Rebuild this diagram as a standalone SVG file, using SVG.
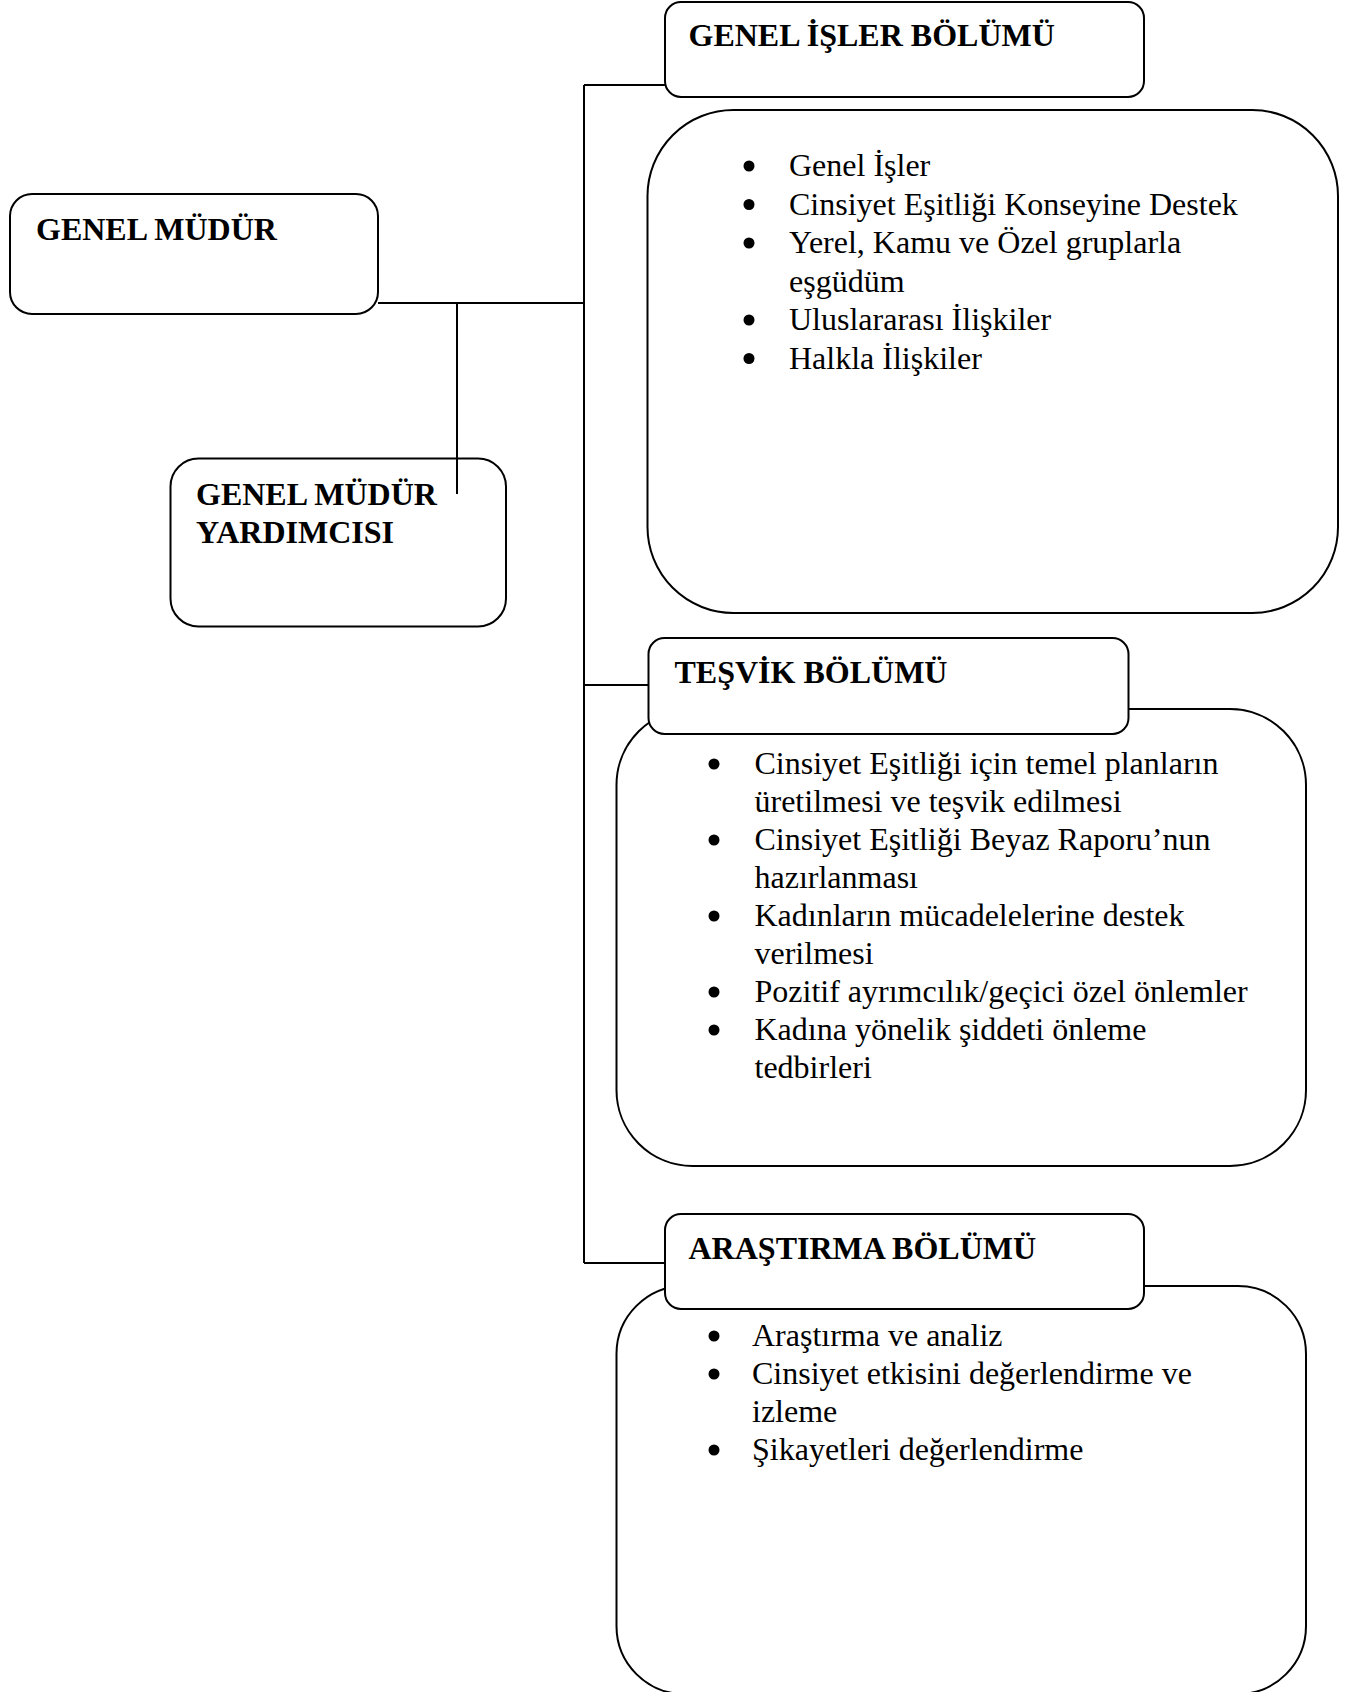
<svg xmlns="http://www.w3.org/2000/svg" width="1350" height="1692" viewBox="0 0 1350 1692">
<style>
.box{fill:#ffffff;stroke:#000000;stroke-width:2}
.line{fill:none;stroke:#000000;stroke-width:2}
.t{font-family:"Liberation Serif","Times New Roman",serif;font-size:32px;fill:#000000}
.b{font-weight:bold}
.dot{fill:#000000}
</style>
<rect width="1350" height="1692" fill="#ffffff"/>
<g id="connectors">
<polyline class="line" points="378,303 584,303"/>
<line class="line" x1="457" y1="303" x2="457" y2="494"/>
<line class="line" x1="584" y1="85" x2="584" y2="1263"/>
<line class="line" x1="584" y1="85" x2="665" y2="85"/>
<line class="line" x1="584" y1="685" x2="649" y2="685"/>
<line class="line" x1="584" y1="1263" x2="665" y2="1263"/>
</g>
<g id="genel-mudur">
<rect class="box" x="10" y="194" width="368" height="120" rx="22" ry="22"/>
<text class="t b" x="36" y="240">GENEL MÜDÜR</text>
</g>
<g id="genel-mudur-yardimcisi">
<rect class="box" x="170.5" y="458.5" width="335.5" height="168" rx="28" ry="28" style="fill:none"/>
<text class="t b" x="196" y="505">GENEL MÜDÜR</text>
<text class="t b" x="196" y="543">YARDIMCISI</text>
</g>
<g id="genel-isler-liste">
<rect class="box" x="647.5" y="110" width="690.5" height="503" rx="86" ry="86"/>
<circle class="dot" cx="749" cy="166" r="5.5"/>
<text class="t" x="789" y="176">Genel İşler</text>
<circle class="dot" cx="749" cy="204.5" r="5.5"/>
<text class="t" x="789" y="214.5">Cinsiyet Eşitliği Konseyine Destek</text>
<circle class="dot" cx="749" cy="243" r="5.5"/>
<text class="t" x="789" y="253">Yerel, Kamu ve Özel gruplarla</text>
<text class="t" x="789" y="291.5">eşgüdüm</text>
<circle class="dot" cx="749" cy="320" r="5.5"/>
<text class="t" x="789" y="330">Uluslararası İlişkiler</text>
<circle class="dot" cx="749" cy="358.5" r="5.5"/>
<text class="t" x="789" y="368.5">Halkla İlişkiler</text>
</g>
<g id="genel-isler-bolumu">
<rect class="box" x="665" y="2" width="479" height="95" rx="16" ry="16"/>
<text class="t b" x="688.5" y="45.5">GENEL İŞLER BÖLÜMÜ</text>
</g>
<g id="tesvik-liste">
<rect class="box" x="616.5" y="709" width="689.5" height="457" rx="76" ry="76"/>
<circle class="dot" cx="714" cy="764" r="5.5"/>
<text class="t" x="754.5" y="774">Cinsiyet Eşitliği için temel planların</text>
<text class="t" x="754.5" y="812">üretilmesi ve teşvik edilmesi</text>
<circle class="dot" cx="714" cy="840" r="5.5"/>
<text class="t" x="754.5" y="850">Cinsiyet Eşitliği Beyaz Raporu’nun</text>
<text class="t" x="754.5" y="888">hazırlanması</text>
<circle class="dot" cx="714" cy="916" r="5.5"/>
<text class="t" x="754.5" y="926">Kadınların mücadelelerine destek</text>
<text class="t" x="754.5" y="964">verilmesi</text>
<circle class="dot" cx="714" cy="992" r="5.5"/>
<text class="t" x="754.5" y="1002">Pozitif ayrımcılık/geçici özel önlemler</text>
<circle class="dot" cx="714" cy="1030" r="5.5"/>
<text class="t" x="754.5" y="1040">Kadına yönelik şiddeti önleme</text>
<text class="t" x="754.5" y="1078">tedbirleri</text>
</g>
<g id="tesvik-bolumu">
<rect class="box" x="648.5" y="638" width="480" height="96" rx="16" ry="16"/>
<text class="t b" x="674.5" y="683">TEŞVİK BÖLÜMÜ</text>
</g>
<g id="arastirma-liste">
<rect class="box" x="616.5" y="1286" width="689.5" height="408" rx="68" ry="68"/>
<circle class="dot" cx="714" cy="1336" r="5.5"/>
<text class="t" x="752" y="1346">Araştırma ve analiz</text>
<circle class="dot" cx="714" cy="1374" r="5.5"/>
<text class="t" x="752" y="1384">Cinsiyet etkisini değerlendirme ve</text>
<text class="t" x="752" y="1422">izleme</text>
<circle class="dot" cx="714" cy="1450" r="5.5"/>
<text class="t" x="752" y="1460">Şikayetleri değerlendirme</text>
</g>
<g id="arastirma-bolumu">
<rect class="box" x="665" y="1214" width="479" height="95" rx="16" ry="16"/>
<text class="t b" x="688.5" y="1259">ARAŞTIRMA BÖLÜMÜ</text>
</g>
</svg>
